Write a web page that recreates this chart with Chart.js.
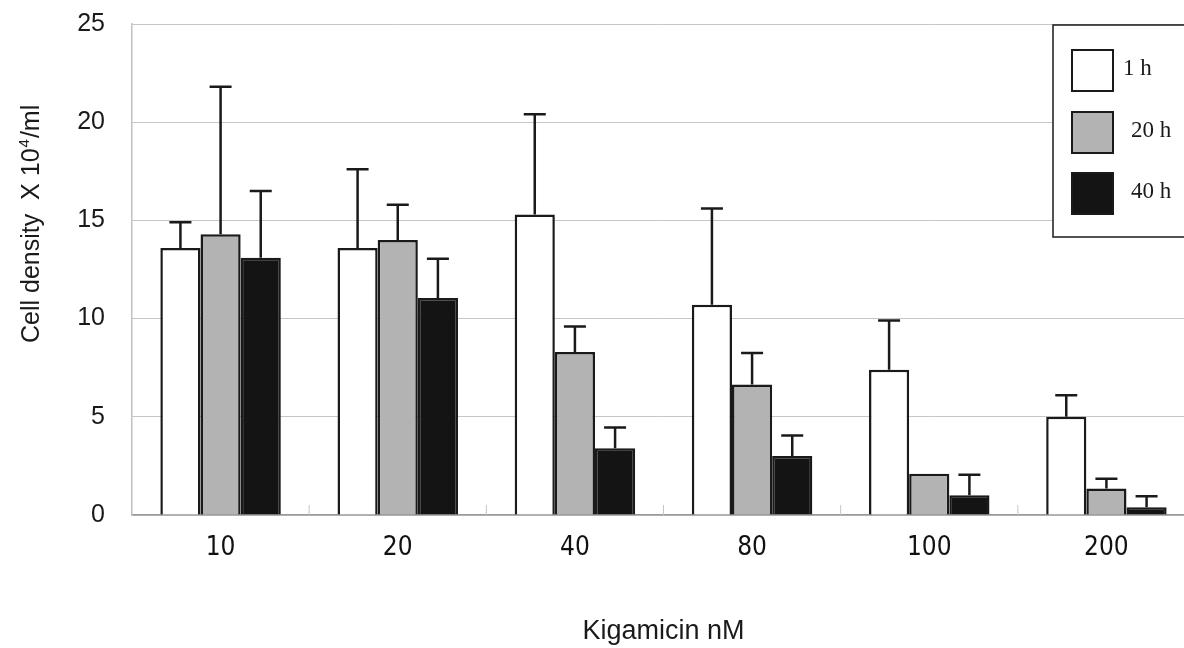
<!DOCTYPE html>
<html>
<head>
<meta charset="utf-8">
<script src="https://cdn.jsdelivr.net/npm/chart.js@4/dist/chart.umd.min.js"></script>
<style>
  html, body { margin: 0; padding: 0; background: #fff; overflow: hidden; }
  #wrap { width: 1200px; height: 648px; position: relative; }
</style>
</head>
<body>
<div id="wrap"><canvas id="c"></canvas></div>
<script>
// ---- data ----
const categories = ['10', '20', '40', '80', '100', '200'];
const seriesLabels = ['1 h', '20 h', '40 h'];
const h1 = [13.6, 13.6, 15.3, 10.7, 7.4, 5.0];
const h1Err = [1.3, 4.0, 5.1, 4.9, 2.5, 1.1];
const h20 = [14.3, 14.0, 8.3, 6.65, 2.1, 1.35];
const h20Err = [7.5, 1.8, 1.3, 1.6, 0, 0.5];
const h40 = [13.1, 11.05, 3.4, 3.0, 1.0, 0.4];
const h40Err = [3.4, 2.0, 1.05, 1.05, 1.05, 0.55];
const yTicks = [0, 5, 10, 15, 20, 25];
const yTitle = ['Cell density  X 10', '4', '/ml'];
const xTitle = 'Kigamicin nM';

const fills = ['#ffffff', '#b3b3b3', '#141414'];
const errs = [h1Err, h20Err, h40Err];

const errorBars = {
  id: 'errorBars',
  afterDatasetsDraw(chart) {
    const ctx = chart.ctx, ys = chart.scales.y;
    ctx.save();
    ctx.strokeStyle = '#1a1a1a';
    ctx.lineWidth = 2.5;
    chart.data.datasets.forEach((ds, di) => {
      const meta = chart.getDatasetMeta(di);
      meta.data.forEach((bar, i) => {
        const e = errs[di][i];
        if (!e) return;
        const yTop = ys.getPixelForValue(ds.data[i] + e);
        const yBase = ys.getPixelForValue(ds.data[i]);
        ctx.beginPath();
        ctx.moveTo(bar.x, yBase);
        ctx.lineTo(bar.x, yTop);
        ctx.moveTo(bar.x - 11, yTop);
        ctx.lineTo(bar.x + 11, yTop);
        ctx.stroke();
      });
    });
    ctx.restore();
  }
};

const innerTicks = {
  id: 'innerTicks',
  beforeDatasetsDraw(chart) {
    const ctx = chart.ctx, xs = chart.scales.x, a = chart.chartArea;
    ctx.save();
    ctx.strokeStyle = '#c4c4c4';
    ctx.lineWidth = 1;
    for (let i = 0; i < categories.length; i++) {
      const x = i < categories.length - 1
        ? (xs.getPixelForValue(i) + xs.getPixelForValue(i + 1)) / 2
        : a.right;
      ctx.beginPath();
      ctx.moveTo(x, a.bottom);
      ctx.lineTo(x, a.bottom - 10);
      ctx.stroke();
    }
    ctx.restore();
  }
};

const titlesAndLegend = {
  id: 'titlesAndLegend',
  afterDraw(chart) {
    const ctx = chart.ctx;
    // y title (rotated)
    ctx.save();
    ctx.translate(39, 343);
    ctx.rotate(-Math.PI / 2);
    ctx.fillStyle = '#1a1a1a';
    ctx.textBaseline = 'alphabetic';
    ctx.textAlign = 'left';
    ctx.font = '25px "Liberation Sans", Arial, sans-serif';
    let x = 0;
    ctx.fillText(yTitle[0], x, 0);
    x += ctx.measureText(yTitle[0]).width + 1;
    ctx.font = '15px "Liberation Sans", Arial, sans-serif';
    ctx.fillText(yTitle[1], x, -10);
    x += ctx.measureText(yTitle[1]).width + 1;
    ctx.font = '25px "Liberation Sans", Arial, sans-serif';
    ctx.fillText(yTitle[2], x, 0);
    ctx.restore();

    // legend
    ctx.save();
    ctx.fillStyle = '#ffffff';
    ctx.fillRect(1053, 25, 160, 212);
    ctx.strokeStyle = '#1a1a1a';
    ctx.lineWidth = 1.5;
    ctx.strokeRect(1053, 25, 160, 212);
    const rowY = [50, 112, 173];
    const textX = [1123, 1131, 1131];
    ctx.font = '23px "Liberation Serif", "Times New Roman", serif';
    ctx.textBaseline = 'middle';
    ctx.textAlign = 'left';
    chart.data.datasets.forEach((ds, i) => {
      ctx.fillStyle = ds.backgroundColor;
      ctx.fillRect(1072, rowY[i], 41, 41);
      ctx.lineWidth = 2;
      ctx.strokeStyle = '#1a1a1a';
      ctx.strokeRect(1072, rowY[i], 41, 41);
      ctx.fillStyle = '#1a1a1a';
      ctx.fillText(ds.label, textX[i], rowY[i] + 19);
    });
    ctx.restore();
  }
};

new Chart(document.getElementById('c'), {
  type: 'bar',
  data: {
    labels: categories,
    datasets: [
      { label: seriesLabels[0], data: h1, backgroundColor: fills[0] },
      { label: seriesLabels[1], data: h20, backgroundColor: fills[1] },
      { label: seriesLabels[2], data: h40, backgroundColor: fills[2] }
    ].map(d => Object.assign(d, {
      borderColor: '#1a1a1a', borderWidth: 2.5,
      categoryPercentage: 0.68, barPercentage: 1.0
    }))
  },
  options: {
    responsive: true,
    maintainAspectRatio: false,
    animation: false,
    layout: { padding: { top: 24, right: 5, left: 0, bottom: 0 } },
    plugins: { legend: { display: false }, tooltip: { enabled: false } },
    scales: {
      x: {
        grid: { display: false, drawTicks: false },
        border: { display: true, color: '#9a9a9a', width: 1.5 },
        ticks: {
          padding: 18,
          color: '#111',
          font: { family: '"Liberation Sans Narrow", "DejaVu Sans Condensed", "Liberation Sans", sans-serif', size: 26 }
        },
        title: {
          display: true, text: xTitle, color: '#1a1a1a',
          font: { family: '"Liberation Sans", Arial, sans-serif', size: 27 },
          padding: { top: 0, bottom: 0 }
        },
        afterFit(s) { s.height = 133; s.paddingLeft = 0; s.paddingRight = 0; }
      },
      y: {
        min: 0, max: 25,
        afterBuildTicks(s) { s.ticks = yTicks.map(v => ({ value: v })); },
        grid: { color: '#c6c6c6', lineWidth: 1, drawTicks: false },
        border: { display: true, color: '#c0c0c0', width: 1.5 },
        ticks: {
          padding: 27,
          color: '#1a1a1a',
          font: { family: '"Liberation Sans", Arial, sans-serif', size: 25 }
        },
        afterFit(s) { s.width = 132; s.paddingTop = 0; s.paddingBottom = 0; }
      }
    }
  },
  plugins: [innerTicks, errorBars, titlesAndLegend]
});
</script>
</body>
</html>
